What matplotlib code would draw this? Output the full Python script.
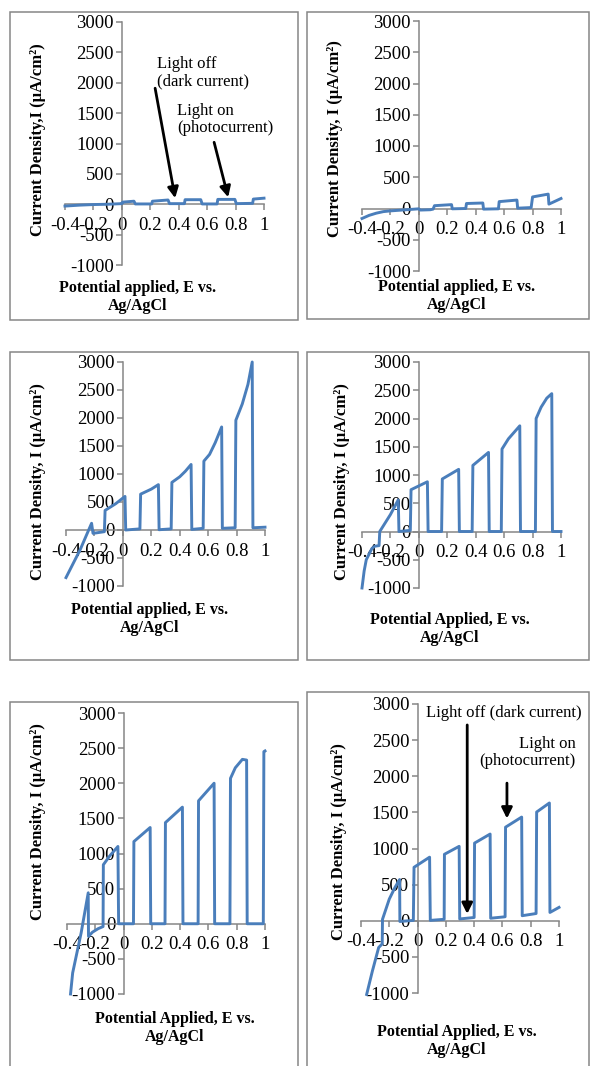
import matplotlib.pyplot as plt
from matplotlib.patches import Rectangle

plt.rcParams['font.family'] = ['Liberation Serif', 'DejaVu Serif']

# potential (V vs Ag/AgCl) and current density (uA/cm2)
e1 = [-0.4, -0.3, -0.2, -0.1, 0.0, 0.005, 0.085, 0.095, 0.21, 0.215, 0.325, 0.335, 0.44, 0.445,
      0.555, 0.565, 0.67, 0.675, 0.795, 0.805, 0.92, 0.925, 1.0]
i1 = [-30, -15, -5, 0, 10, 35, 50, 5, 5, 50, 70, 10, 10, 75, 75, 5, 5, 80, 80, 10, 15, 85, 100]

e2 = [-0.4, -0.35, -0.3, -0.25, -0.2, -0.1, 0.0, 0.01, 0.08, 0.1, 0.11, 0.23, 0.235, 0.33, 0.335,
      0.45, 0.455, 0.56, 0.565, 0.69, 0.695, 0.79, 0.8, 0.91, 0.915, 1.0]
i2 = [-160, -110, -75, -50, -38, -22, -5, -25, -20, -10, 45, 62, -5, 0, 80, 88, -10, -5, 110, 135,
      5, 15, 185, 230, 70, 160]

e3 = [-0.4, -0.3, -0.22, -0.21, -0.13, -0.125, -0.05, 0.015, 0.02, 0.12, 0.125, 0.2, 0.25, 0.255,
      0.34, 0.345, 0.4, 0.44, 0.48, 0.485, 0.565, 0.57, 0.61, 0.65, 0.695, 0.7, 0.79, 0.795, 0.84,
      0.88, 0.91, 0.915, 1.0]
i3 = [-850, -350, 120, -60, -30, 350, 470, 600, 0, 20, 640, 730, 810, 5, 20, 850, 950, 1050, 1170,
      10, 30, 1230, 1350, 1560, 1840, 30, 40, 1960, 2250, 2600, 3000, 40, 50]

e4 = [-0.4, -0.385, -0.37, -0.33, -0.31, -0.28, -0.275, -0.2, -0.145, -0.14, -0.06, -0.055, 0.06,
      0.065, 0.16, 0.165, 0.28, 0.285, 0.375, 0.38, 0.49, 0.495, 0.58, 0.585, 0.63, 0.71, 0.715,
      0.82, 0.825, 0.86, 0.9, 0.935, 0.94, 1.0]
i4 = [-1000, -700, -500, -300, -260, -250, 0, 300, 560, 0, 20, 740, 880, 0, 0, 930, 1100, 0, 0,
      1170, 1400, 0, 0, 1460, 1640, 1870, 0, 0, 2000, 2200, 2360, 2440, 0, 0]

e5 = [-0.375, -0.36, -0.3, -0.25, -0.248, -0.22, -0.18, -0.145, -0.143, -0.1, -0.04, -0.035, 0.07,
      0.073, 0.188, 0.192, 0.293, 0.296, 0.416, 0.42, 0.527, 0.53, 0.64, 0.644, 0.752, 0.756, 0.79,
      0.84, 0.87, 0.874, 0.988, 0.992, 1.0]
i5 = [-1000, -700, -130, 440, -180, -120, -70, -40, 840, 960, 1100, 0, 0, 1170, 1370, 0, 0, 1440,
      1660, 0, 0, 1750, 2000, 0, 0, 2070, 2220, 2340, 2330, 0, 0, 2450, 2460]

e6 = [-0.36, -0.32, -0.275, -0.25, -0.248, -0.2, -0.16, -0.127, -0.125, -0.03, -0.025, 0.085, 0.09,
      0.188, 0.19, 0.294, 0.298, 0.4, 0.403, 0.513, 0.517, 0.619, 0.622, 0.736, 0.74, 0.838, 0.842,
      0.932, 0.936, 1.0]
i6 = [-1020, -700, -370, -320, 20, 300, 460, 570, -10, 5, 740, 880, 5, 20, 920, 1030, 25, 45, 1075,
      1200, 35, 55, 1295, 1435, 70, 100, 1505, 1630, 115, 185]

x_ticks = [-0.4, -0.2, 0, 0.2, 0.4, 0.6, 0.8, 1.0]
x_labels = ['-0.4', '-0.2', '0', '0.2', '0.4', '0.6', '0.8', '1']
y_ticks = [-1000, -500, 0, 500, 1000, 1500, 2000, 2500, 3000]
y_labels = ['-1000', '-500', '0', '500', '1000', '1500', '2000', '2500', '3000']

ylab_a = 'Current Density, I (µA/cm²)'
xlab_low = 'Potential applied, E vs.\nAg/AgCl'
xlab_cap = 'Potential Applied, E vs.\nAg/AgCl'

W, H = 590, 1066
fig = plt.figure(figsize=(W / 100, H / 100), dpi=100)
fig.patch.set_facecolor('white')

GRAY = '#868686'
BLUE = '#4A7EBB'


def fx(px):
    return px / W


def fy(py):
    return 1 - py / H


def panel(frame, plot_px, e, i, ylab, ylab_pos, xlab, xlab_pos):
    # outer chart frame
    x0, y0, x1, y1 = frame
    fig.add_artist(Rectangle((fx(x0), fy(y1)), fx(x1) - fx(x0), fy(y0) - fy(y1),
                             transform=fig.transFigure, fill=False, edgecolor=GRAY, lw=1.1))
    l, r, t, b = plot_px
    ax = fig.add_axes([fx(l), fy(b), fx(r) - fx(l), fy(t) - fy(b)])
    ax.patch.set_visible(False)
    ax.plot(e, i, color=BLUE, lw=2.1, clip_on=False, zorder=3, solid_joinstyle='round')
    ax.set_xlim(-0.4, 1.0)
    ax.set_ylim(-1000, 3000)
    for s in ['top', 'right']:
        ax.spines[s].set_visible(False)
    ax.spines['left'].set_position(('data', 0))
    ax.spines['bottom'].set_position(('data', 0))
    for s in ['left', 'bottom']:
        ax.spines[s].set_color(GRAY)
        ax.spines[s].set_linewidth(1.1)
    ax.set_xticks(x_ticks)
    ax.set_xticklabels(x_labels)
    ax.set_yticks(y_ticks)
    ax.set_yticklabels(y_labels)
    ax.tick_params(axis='both', direction='out', length=4, width=1.1, color=GRAY,
                   labelsize=13.5, labelcolor='black')
    ax.tick_params(axis='x', pad=5)
    ax.tick_params(axis='y', pad=2)
    fig.text(fx(ylab_pos[0]), fy(ylab_pos[1]), ylab, rotation=90, ha='center', va='center',
             fontsize=12, fontweight='bold')
    fig.text(fx(xlab_pos[0]), fy(xlab_pos[1]), xlab, ha='center', va='center',
             fontsize=11.5, fontweight='bold', linespacing=1.2)
    return ax


ax1 = panel((10, 12, 298, 320), (65, 264, 22, 265), e1, i1,
            'Current Density,I (µA/cm²)', (38, 140), xlab_low, (138, 297))
ax2 = panel((307, 12, 589, 319), (362, 561, 21, 271), e2, i2,
            ylab_a, (335, 139), xlab_low, (457, 296))
ax3 = panel((10, 352, 298, 660), (66, 265, 362, 586), e3, i3,
            ylab_a, (38, 482), xlab_low, (150, 619))
ax4 = panel((307, 352, 589, 660), (362, 561, 362, 588), e4, i4,
            ylab_a, (342, 482), xlab_cap, (450, 629))
ax5 = panel((10, 702, 298, 1080), (67, 265, 713, 994), e5, i5,
            ylab_a, (38, 822), xlab_cap, (175, 1028))
ax6 = panel((307, 692, 589, 1080), (361, 559, 704, 993), e6, i6,
            ylab_a, (339, 842), xlab_cap, (457, 1041))

arrow = dict(arrowstyle='-|>', color='black', lw=2.0, mutation_scale=16, shrinkA=0, shrinkB=0)

# panel 1 annotations
ax1.text(0.245, 2170, 'Light off\n(dark current)', ha='left', va='center', fontsize=12,
         linespacing=1.1)
ax1.annotate('', xy=(0.375, 100), xytext=(0.234, 1910), arrowprops=arrow, annotation_clip=False)
ax1.text(0.39, 1400, 'Light on\n(photocurrent)', ha='left', va='center', fontsize=12,
         linespacing=1.1)
ax1.annotate('', xy=(0.748, 115), xytext=(0.649, 1020), arrowprops=arrow, annotation_clip=False)

# panel 6 annotations
ax6.text(0.06, 2875, 'Light off (dark current)', ha='left', va='center', fontsize=12)
ax6.annotate('', xy=(0.351, 95), xytext=(0.351, 2710), arrowprops=arrow, annotation_clip=False)
ax6.text(1.12, 2330, 'Light on\n(photocurrent)', ha='right', va='center', fontsize=12,
         multialignment='right', linespacing=1.1)
ax6.annotate('', xy=(0.632, 1415), xytext=(0.632, 1905), arrowprops=arrow, annotation_clip=False)

fig.savefig('out.png', dpi=100, facecolor='white')
